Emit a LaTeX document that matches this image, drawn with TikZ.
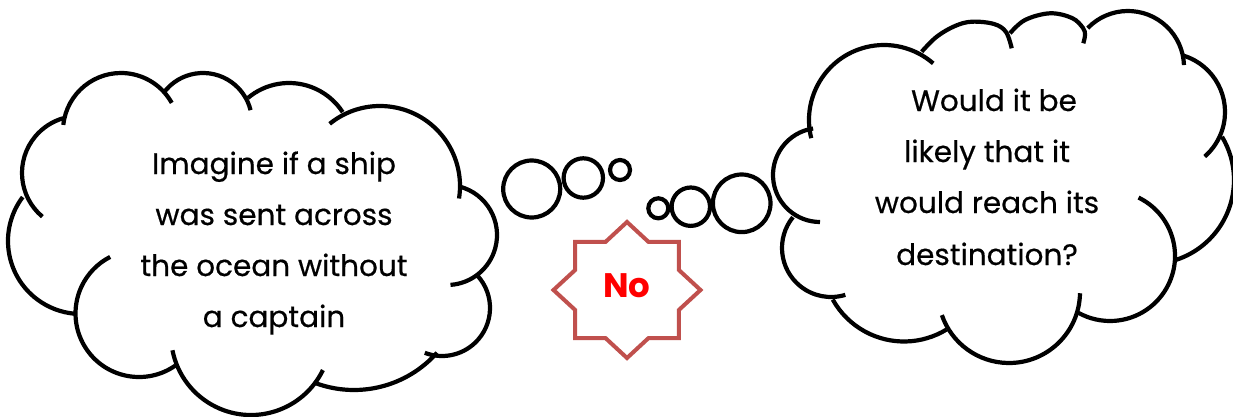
\documentclass[tikz,border=0pt]{standalone}
\usepackage{fontspec}
\newfontfamily\comic[FakeBold=0.5]{Poppins}
\newfontfamily\comicbold{Poppins}
\newcommand{\cloudarc}[4]{\draw[cloudline] (#1) ++(#2:#4) arc[start angle=#2,end angle=#3,radius=#4];}
\begin{document}
\begin{tikzpicture}[x=1pt,y=-1pt,
  cloudline/.style={line width=4.2pt, black},
  bubble/.style={line width=4.2pt, black, fill=white},
  cloudtext/.style={font=\comic\fontsize{29.5}{34}\selectfont, anchor=base, inner sep=0pt},
  starline/.style={line width=4pt, draw=starred},
  notext/.style={font=\comicbold\bfseries\fontsize{34}{40}\selectfont, text=red, anchor=base, inner sep=0pt}]
\definecolor{starred}{RGB}{192,80,77}
\useasboundingbox (0,0) rectangle (1233,417);
\fill[white] (0,0) rectangle (1233,417);
% ---- left cloud ----
\cloudarc{79,173}{130}{254}{57}
\cloudarc{121,131}{186}{331}{58}
\cloudarc{203,122}{216}{346}{49}
\cloudarc{289,147}{230}{327}{64}
\cloudarc{380,186}{231}{369}{80}
\cloudarc{447,235}{285}{446}{50}
\cloudarc{442,308}{317}{471}{48}
\cloudarc{354,279}{41.6}{110.6}{111}
\cloudarc{251,335}{26}{169}{80}
\cloudarc{139,313.5}{55}{243}{63.5}
\cloudarc{81,241}{217}{95}{73}
% ---- right cloud ----
\cloudarc{884,120}{166}{311}{75}
\draw[cloudline] plot[smooth,tension=0.6] coordinates {(921.7,51.7) (936.7,36.7) (955,26) (972,21.7) (994,24) (1006,32) (1011.7,48.3)};
\draw[cloudline] plot[smooth,tension=0.6] coordinates {(1010,33.3) (1025,20) (1050,13.3) (1072,18) (1083,28) (1085,35) (1083.3,43.3)};
\cloudarc{1128,67}{224}{358}{56}
\cloudarc{1166,112}{287}{409}{59}
\cloudarc{1150,180}{329}{432}{84}
\cloudarc{1110,256}{296}{479}{65}
\cloudarc{1009,292}{1}{161}{71}
\cloudarc{904,260}{58.5}{151}{81.5}
\cloudarc{831,248}{219}{73}{49}
\cloudarc{820,175}{261.5}{90}{47}
% ---- thought bubbles ----
\draw[bubble] (531.7,189) circle[radius=28.5];
\draw[bubble] (583.3,178) circle[radius=19.7];
\draw[bubble] (620,170) circle[radius=10];
\draw[bubble] (658.3,208.3) circle[radius=10];
\draw[bubble] (690.8,206.7) circle[radius=19.2];
\draw[bubble] (741.7,203.3) circle[radius=28.8];
% ---- star ----
\draw[starline] (627,222) \foreach \a in {0,45,...,315} { -- ({627+56.23*cos(\a-67.5)},{290+52.02*sin(\a-67.5)}) -- ({627+73.5*cos(\a-45)},{290+68*sin(\a-45)}) } -- cycle;
\node[notext] (no) at (627,297) {No};
% ---- texts ----
\node[cloudtext] (l1) at (274,174) {Imagine if a ship};
\node[cloudtext] (l2) at (274,225) {was sent across};
\node[cloudtext] (l3) at (274,276) {the ocean without};
\node[cloudtext] (l4) at (274,327) {a captain};
\node[cloudtext] (r1) at (994,111) {Would it be};
\node[cloudtext] (r2) at (987,162) {likely that it};
\node[cloudtext] (r3) at (987,213) {would reach its};
\node[cloudtext] (r4) at (987,265) {destination?};
\end{tikzpicture}
\end{document}
